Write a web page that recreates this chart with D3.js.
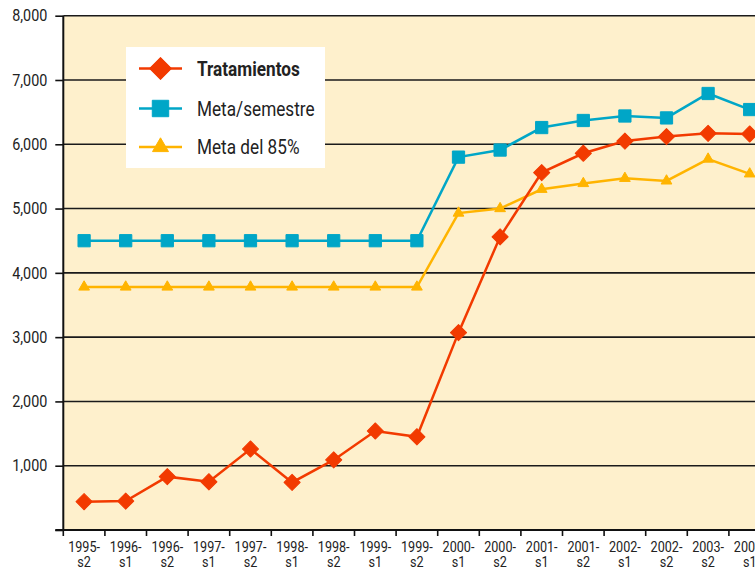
<!DOCTYPE html>
<html>
<head>
    <title>Tratamientos por semestre</title>
    <script src="https://d3js.org/d3.v7.min.js"></script>
    <style>
        body { margin: 0; background: #fff; }
        text { font-family: Roboto, "Liberation Sans", sans-serif; fill: #222; }
    </style>
</head>
<body>
<svg width="755" height="570"></svg>
<script>
    const semesters = ["1995-s2", "1996-s1", "1996-s2", "1997-s1", "1997-s2", "1998-s1", "1998-s2",
        "1999-s1", "1999-s2", "2000-s1", "2000-s2", "2001-s1", "2001-s2", "2002-s1", "2002-s2",
        "2003-s2", "2004-s1"];
    const tratamientos = [440, 450, 830, 750, 1260, 740, 1090, 1540, 1450, 3070, 4560, 5560, 5860, 6050, 6120, 6170, 6160];
    const metaSemestre = [4500, 4500, 4500, 4500, 4500, 4500, 4500, 4500, 4500, 5800, 5910, 6260, 6370, 6440, 6410, 6790, 6540];
    const meta85 = [3780, 3780, 3780, 3780, 3780, 3780, 3780, 3780, 3780, 4930, 5000, 5300, 5390, 5470, 5430, 5770, 5540];
    const yTicks = [0, 1000, 2000, 3000, 4000, 5000, 6000, 7000, 8000];

    // diamond = square turned 45 degrees
    const series = [
        {name: "Tratamientos", values: tratamientos, color: "#f23a00", symbol: d3.symbolSquare, rotate: 45, size: 130, legendSize: 240, bold: true},
        {name: "Meta/semestre", values: metaSemestre, color: "#00a6c7", symbol: d3.symbolSquare, rotate: 0, size: 150, legendSize: 270, bold: false},
        {name: "Meta del 85%", values: meta85, color: "#ffb400", symbol: d3.symbolTriangle, rotate: 0, size: 50, legendSize: 110, bold: false}
    ];

    const width = 755, height = 570;
    const plotLeft = 63.3, plotTop = 15.7, plotBottom = 530;
    const step = 41.6;

    const svg = d3.select("svg");

    const x = d3.scaleBand()
        .domain(semesters)
        .range([plotLeft, plotLeft + step * semesters.length])
        .padding(0);
    const y = d3.scaleLinear().domain([0, 8000]).range([plotBottom, plotTop]);

    // plot background
    svg.append("rect")
        .attr("x", plotLeft).attr("y", plotTop)
        .attr("width", width - plotLeft).attr("height", plotBottom - plotTop)
        .attr("fill", "#fef0cc");

    // gridlines
    svg.selectAll(".grid")
        .data(yTicks.filter(d => d > 0))
        .enter().append("line")
        .attr("x1", plotLeft).attr("x2", width)
        .attr("y1", d => y(d)).attr("y2", d => y(d))
        .attr("stroke", "#1a1a1a")
        .attr("stroke-width", 1.6);

    // y axis
    const yAxis = svg.append("g")
        .attr("transform", "translate(" + plotLeft + ",0)")
        .call(d3.axisLeft(y).tickValues(yTicks).tickSize(8)
            .tickFormat(d => d === 0 ? "" : d3.format(",")(d)));
    yAxis.select(".domain").remove();
    yAxis.selectAll(".tick line").attr("stroke", "#111").attr("stroke-width", 1.6);
    yAxis.selectAll("text")
        .attr("x", 0)
        .attr("transform", "translate(-16,0) scale(0.87,1)")
        .style("font-size", "16.5px")
        .attr("fill", "#222");

    svg.append("line")
        .attr("x1", plotLeft).attr("x2", plotLeft)
        .attr("y1", plotTop).attr("y2", plotBottom)
        .attr("stroke", "#111").attr("stroke-width", 2);
    svg.append("line")
        .attr("x1", plotLeft - 8).attr("x2", width)
        .attr("y1", plotBottom).attr("y2", plotBottom)
        .attr("stroke", "#111").attr("stroke-width", 2);

    // x ticks at category boundaries
    svg.selectAll(".xtick")
        .data(semesters)
        .enter().append("line")
        .attr("x1", d => x(d)).attr("x2", d => x(d))
        .attr("y1", plotBottom).attr("y2", plotBottom + 6)
        .attr("stroke", "#111").attr("stroke-width", 1.6);

    const xl = svg.selectAll(".xlabel")
        .data(semesters)
        .enter().append("g")
        .attr("transform", d => "translate(" + (x(d) + x.bandwidth() / 2) + ",0) scale(0.9,1)")
        .append("text")
        .attr("text-anchor", "middle")
        .style("font-size", "14px");
    xl.append("tspan")
        .attr("x", 0)
        .attr("y", 552)
        .text(d => d.split("-")[0] + "-");
    xl.append("tspan")
        .attr("x", 0)
        .attr("y", 567.5)
        .text(d => d.split("-")[1]);

    // lines and markers
    const line = d3.line()
        .x((d, i) => x(semesters[i]) + x.bandwidth() / 2)
        .y(d => y(d));

    series.slice().reverse().forEach(s => {
        svg.append("path")
            .datum(s.values)
            .attr("d", line)
            .attr("fill", "none")
            .attr("stroke", s.color)
            .attr("stroke-width", 2.5);
        svg.selectAll(null)
            .data(s.values)
            .enter().append("path")
            .attr("d", d3.symbol().type(s.symbol).size(s.size))
            .attr("transform", (d, i) => "translate(" + (x(semesters[i]) + x.bandwidth() / 2) + "," + y(d) + ") rotate(" + s.rotate + ")")
            .attr("fill", s.color)
            .attr("stroke", s.color)
            .attr("stroke-width", 1)
            .attr("stroke-linejoin", "round");
    });

    // legend
    const legend = svg.append("g");
    legend.append("rect")
        .attr("x", 126).attr("y", 47)
        .attr("width", 199).attr("height", 121)
        .attr("fill", "#fff");
    const rows = legend.selectAll(".row")
        .data(series)
        .enter().append("g")
        .attr("transform", (d, i) => "translate(0," + [68.5, 108.5, 147][i] + ")");
    rows.append("line")
        .attr("x1", 139).attr("x2", 182)
        .attr("stroke", d => d.color).attr("stroke-width", 2.5);
    rows.append("path")
        .attr("d", d => d3.symbol().type(d.symbol).size(d.legendSize)())
        .attr("transform", d => "translate(160.5,0) rotate(" + d.rotate + ")")
        .attr("fill", d => d.color)
        .attr("stroke", d => d.color)
        .attr("stroke-linejoin", "round");
    rows.append("g")
        .attr("transform", "translate(197,0) scale(0.86,1)")
        .append("text")
        .attr("dy", "0.36em")
        .style("font-size", "20px")
        .style("font-weight", d => d.bold ? "bold" : "normal")
        .attr("fill", "#222")
        .text(d => d.name);
</script>
</body>
</html>
